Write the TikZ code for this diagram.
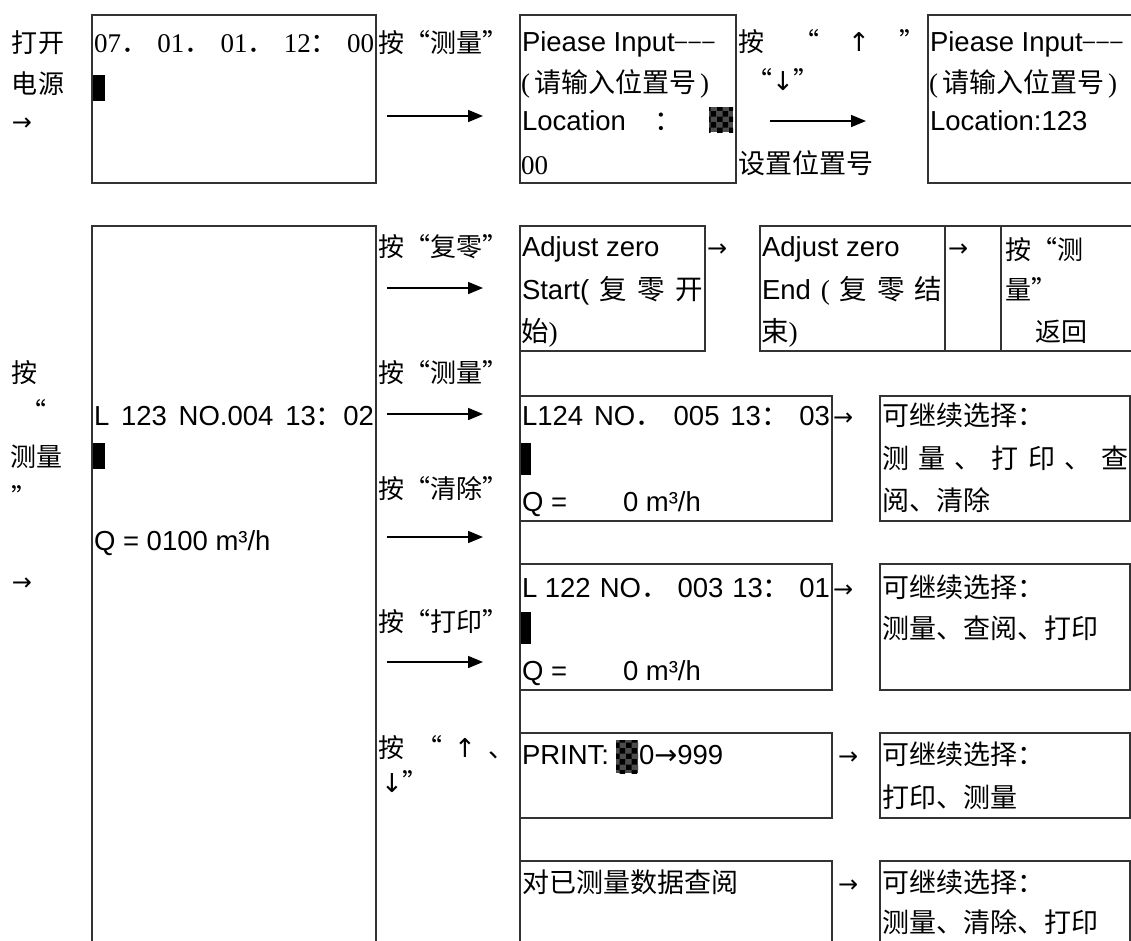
\documentclass[tikz,border=0pt]{standalone}
\usepackage{fontspec}
\setmainfont{Liberation Sans}
\newfontfamily\cjk{Noto Sans CJK SC}
\newfontfamily\symf{DejaVu Sans}
\newfontfamily\serf{Liberation Serif}
\usetikzlibrary{arrows.meta,patterns}
\newcommand\myqo{\makebox[1em][r]{“}}
\newcommand\myqc{\makebox[1em][l]{”}}
\newcommand\lsz{\fontsize{27.5}{30}\selectfont}
\newcommand\csz{\fontsize{27}{30}\selectfont\cjk}
\newcommand\ksz{\fontsize{26}{30}\selectfont\cjk}
\newcommand\dashes{\raisebox{2.5pt}{\fontsize{22}{22}\selectfont –\kern1.5pt–\kern1.5pt–}}
\tikzset{
  tx/.style={anchor=base west, inner sep=0pt, outer sep=0pt, font=\lsz},
  cx/.style={tx, font=\csz},
  kx/.style={tx, font=\ksz},
  sx/.style={tx, font=\fontsize{24}{30}\selectfont\symf},
  rx/.style={tx, font=\fontsize{27}{30}\selectfont\serf},
  lnx/.style={line width=1.3pt, draw=black!80},
  arx/.style={line width=1.6pt, -{Triangle[length=15pt,width=12pt]}},
  curx/.style={fill=black, inner sep=0pt, outer sep=0pt, anchor=north west},
  patx/.style={inner sep=0pt, outer sep=0pt, anchor=north west, preaction={fill=black!70}, pattern=checkerboard}
}
\begin{document}
\begin{tikzpicture}[x=1pt,y=-1pt]
\useasboundingbox (0,0) rectangle (1131,940);
\clip (0,0) rectangle (1131,940);

% ---------- top row ----------
\node[kx] (tOpen) at (12,52) {打开};
\node[kx] (tPow) at (12,93) {电源};
\node[sx] (tArr) at (12,130) {→};

\draw[lnx] (92,15) rectangle (376,183);
\node[rx] (b1t) at (94,52) {\makebox[280pt][l]{07{\cjk ．}\hfill 01{\cjk ．}\hfill 01{\cjk ．}\hfill 12{\cjk ：}\hfill 00}};
\node[curx, minimum width=12pt, minimum height=26pt] (b1cur) at (93,75) {};

\node[kx] (l1a) at (378,52) {按\myqo 测量\myqc};
\coordinate (a1s) at (387,116); \coordinate (a1e) at (483,116);
\draw[arx] (a1s) -- (a1e);

\draw[lnx] (520,15) rectangle (736,183);
\node[tx] (b2a) at (522,51) {Piease Input\dashes};
\node[cx] (b2b) at (521,92) {{\serf (}\kern4pt 请输入位置号\kern4pt{\serf )}};
\node[tx] (b2c) at (522,130) {\makebox[160pt][l]{Location\hfill{\cjk ：}}};
\node[patx, minimum width=24pt, minimum height=25pt] (b2p) at (709,107) {};
\node[rx] (b2d) at (521,174) {00};

\node[kx] (l2a) at (738,51) {\makebox[187pt][l]{按\hfill “\hfill{\symf ↑}\hfill ”}};
\node[kx] (l2b) at (746,90) {\makebox[64pt][l]{“\hfill{\symf ↓}\hfill ”}};
\coordinate (a2s) at (770,121); \coordinate (a2e) at (866,121);
\draw[arx] (a2s) -- (a2e);
\node[cx] (l2c) at (738,173) {设置位置号};

\draw[lnx] (1135,15) -- (928,15) -- (928,183) -- (1135,183);
\node[tx] (b3a) at (930,51) {Piease Input\dashes};
\node[cx] (b3b) at (929,92) {{\serf (}\kern4pt 请输入位置号\kern4pt{\serf )}};
\node[tx] (b3c) at (930,130) {Location:123};

% ---------- lower section ----------
\draw[lnx] (92,950) -- (92,226) -- (376,226) -- (376,950);
\draw[lnx] (520,226) -- (520,950);

\node[kx] (s2a) at (12,382) {按};
\node[kx] (s2b) at (20,421) {“};
\node[kx] (s2c) at (10,466) {测量};
\node[kx] (s2d) at (12,507) {”};
\node[sx] (s2e) at (12,590) {→};

\node[tx] (m1) at (94,425) {\makebox[280pt][s]{L 123 NO.004 13{\cjk ：}02}};
\node[curx, minimum width=12pt, minimum height=26pt] (m1cur) at (93,443) {};
\node[tx] (m2) at (94,550) {Q = 0100 m³/h};

% adjust zero row
\draw[lnx] (520,226) rectangle (705,351);
\node[tx] (z1a) at (522,256) {Adjust zero};
\node[tx] (z1b) at (522,299) {\makebox[181pt][l]{Start(\hfill{\cjk 复}\hfill{\cjk 零}\hfill{\cjk 开}}};
\node[tx] (z1c) at (521,341) {{\cjk 始}{\serf )}};
\node[sx] (z1arr) at (707,256) {→};

\draw[lnx] (1135,226) -- (760,226) -- (760,351) -- (1135,351);
\draw[lnx] (945,226) -- (945,351);
\draw[lnx] (1001,226) -- (1001,351);
\node[tx] (z2a) at (762,256) {Adjust zero};
\node[tx] (z2b) at (762,299) {\makebox[180pt][l]{End\hfill{\serf (}\hfill{\cjk 复}\hfill{\cjk 零}\hfill{\cjk 结}}};
\node[tx] (z2c) at (761,341) {{\cjk 束}{\serf )}};
\node[sx] (z2arr) at (948,256) {→};
\node[kx] (z3a) at (1005,259) {按\myqo 测};
\node[kx] (z3b) at (1005,299) {量\myqc};
\node[kx] (z3c) at (1035,341) {返回};

% key labels and arrows
\node[kx] (k1) at (378,256) {按\myqo 复零\myqc};
\coordinate (k1s) at (387,288); \coordinate (k1e) at (483,288);
\draw[arx] (k1s) -- (k1e);
\node[kx] (k2) at (378,382) {按\myqo 测量\myqc};
\coordinate (k2s) at (387,414); \coordinate (k2e) at (483,414);
\draw[arx] (k2s) -- (k2e);
\node[kx] (k3) at (378,498) {按\myqo 清除\myqc};
\coordinate (k3s) at (387,537); \coordinate (k3e) at (483,537);
\draw[arx] (k3s) -- (k3e);
\node[kx] (k4) at (378,631) {按\myqo 打印\myqc};
\coordinate (k4s) at (387,662); \coordinate (k4e) at (483,662);
\draw[arx] (k4s) -- (k4e);
\node[kx] (k5) at (378,757) {\makebox[136pt][l]{按\hfill “\hfill{\symf ↑}\hfill 、}};
\node[kx] (k6) at (381,792) {{\symf ↓}”};

% measurement result
\draw[lnx] (520,396) rectangle (832,521);
\node[tx] (p1a) at (522,425) {\makebox[308pt][l]{L124\hfill NO{\cjk ．}\hfill 005\hfill 13{\cjk ：}\hfill 03}};
\node[curx, minimum width=10pt, minimum height=32pt] (p1cur) at (521,443) {};
\node[tx] (p1b) at (522,511) {Q =};
\node[tx] (p1c) at (623,511) {0 m³/h};
\node[sx] (p1arr) at (833,425) {→};
\draw[lnx] (880,396) rectangle (1130,521);
\node[cx] (r1a) at (882,425) {可继续选择：};
\node[cx] (r1b) at (882,468) {\makebox[246pt][l]{测\hfill 量\hfill 、\hfill 打\hfill 印\hfill 、\hfill 查}};
\node[cx] (r1c) at (882,510) {阅、清除};

% clear result
\draw[lnx] (520,564) rectangle (832,690);
\node[tx] (p2a) at (522,597) {\makebox[308pt][l]{L 122\hfill NO{\cjk ．}\hfill 003\hfill 13{\cjk ：}\hfill 01}};
\node[curx, minimum width=10pt, minimum height=32pt] (p2cur) at (521,612) {};
\node[tx] (p2b) at (522,680) {Q =};
\node[tx] (p2c) at (623,680) {0 m³/h};
\node[sx] (p2arr) at (833,597) {→};
\draw[lnx] (880,564) rectangle (1130,690);
\node[cx] (r2a) at (882,597) {可继续选择：};
\node[cx] (r2b) at (882,638) {测量、查阅、打印};

% print
\draw[lnx] (520,733) rectangle (832,818);
\node[tx] (p3a) at (522,764) {PRINT:};
\node[patx, minimum width=22pt, minimum height=33pt] (p3p) at (616,740) {};
\node[tx] (p3b) at (639,764) {0{\symf →}999};
\node[sx] (p3arr) at (838,764) {→};
\draw[lnx] (880,733) rectangle (1130,818);
\node[cx] (r3a) at (882,764) {可继续选择：};
\node[cx] (r3b) at (882,807) {打印、测量};

% review
\draw[lnx] (520,950) -- (520,861) -- (832,861) -- (832,950);
\node[cx] (p4a) at (522,892) {对已测量数据查阅};
\node[sx] (p4arr) at (838,892) {→};
\draw[lnx] (880,950) -- (880,861) -- (1130,861) -- (1130,950);
\node[cx] (r4a) at (882,892) {可继续选择：};
\node[cx] (r4b) at (882,932) {测量、清除、打印};
\end{tikzpicture}
\end{document}
